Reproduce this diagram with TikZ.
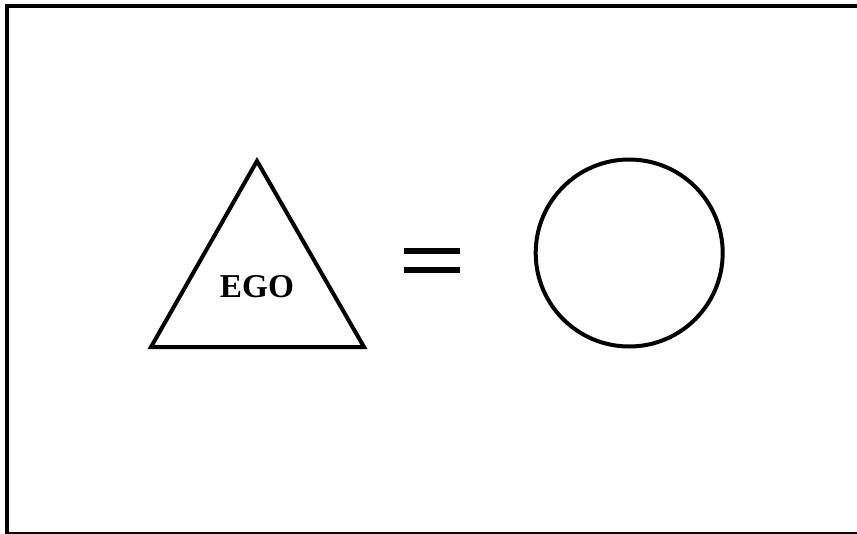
\documentclass[tikz,border=0pt]{standalone}
\usepackage{fontspec}
\setmainfont{Liberation Serif}
\begin{document}
\begin{tikzpicture}[x=0.75pt,y=-0.75pt,
  shapeline/.style={draw=black,line width=3pt,line join=miter},
  eqbar/.style={draw=black,line width=3.8pt}]
\useasboundingbox (0,0) rectangle (857,533);
\begin{scope}
\clip (0,0) rectangle (857,533);
\draw[line width=3pt] (7,6) rectangle (900,534);
\end{scope}
% triangle
\coordinate (apex) at (257,161);
\coordinate (bl) at (151,347);
\coordinate (br) at (364,347);
\draw[shapeline] (apex) -- (br) -- (bl) -- cycle;
\node[font=\fontsize{25}{29}\selectfont\bfseries] (ego) at (257,287) {EGO};
% equals sign
\coordinate (e1a) at (404,251); \coordinate (e1b) at (460,251);
\coordinate (e2a) at (404,270); \coordinate (e2b) at (460,270);
\draw[eqbar] (e1a) -- (e1b);
\draw[eqbar] (e2a) -- (e2b);
% circle
\node[circle,draw=black,line width=3pt,minimum size=187*0.75pt,inner sep=0pt] (circ) at (629.2,253) {};
\end{tikzpicture}
\end{document}
